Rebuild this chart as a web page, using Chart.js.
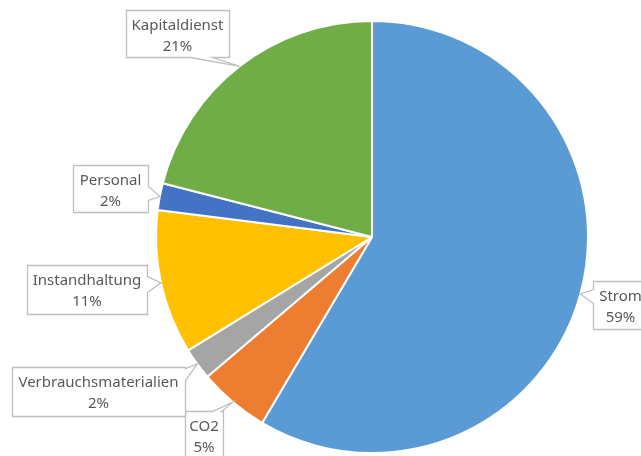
<!DOCTYPE html>
<html>
<head>
<meta charset="utf-8">
<script src="https://cdn.jsdelivr.net/npm/chart.js@4/dist/chart.umd.min.js"></script>
<style>
  html, body { margin: 0; padding: 0; background: #fff; }
  #wrap { width: 641px; height: 456px; }
</style>
</head>
<body>
<div id="wrap"><canvas id="cost_chart" width="641" height="456"></canvas></div>
<script>
const categories = ["Strom", "CO2", "Verbrauchsmaterialien", "Instandhaltung", "Personal", "Kapitaldienst"];
const shares = [58.5, 5.3, 2.4, 10.8, 2.0, 21.0];
const sliceColors = ["#5B9BD5", "#ED7D31", "#A5A5A5", "#FFC000", "#4472C4", "#70AD47"];

// callout boxes: [x1, y1, x2, y2], edge that carries the pointer, pointer base along that edge
const callouts = [
  { box: [593, 281, 648, 329], edge: "left", base: [289, 303] },
  { box: [185, 411, 223, 470], edge: "top", base: [212, 221] },
  { box: [12, 367, 185, 416], edge: "right", base: [368, 380] },
  { box: [27, 265, 147, 314], edge: "right", base: [276, 292] },
  { box: [73, 165, 148, 212], edge: "right", base: [186, 200] },
  { box: [126, 10, 229, 57], edge: "bottom", base: [190, 212] },
];

const total = shares.reduce((a, b) => a + b, 0);

const calloutPlugin = {
  id: "callouts",
  afterDatasetsDraw(chart) {
    const ctx = chart.ctx;
    const arcs = chart.getDatasetMeta(0).data;
    ctx.save();
    arcs.forEach((arc, i) => {
      const c = callouts[i];
      const mid = (arc.startAngle + arc.endAngle) / 2;
      const tx = arc.x + Math.cos(mid) * arc.outerRadius;
      const ty = arc.y + Math.sin(mid) * arc.outerRadius;
      const [x1, y1, x2, y2] = c.box.map((v) => v + 0.5);
      const b0 = c.base[0] + 0.5, b1 = c.base[1] + 0.5;

      ctx.beginPath();
      ctx.moveTo(x1, y1);
      if (c.edge === "top") { ctx.lineTo(b0, y1); ctx.lineTo(tx, ty); ctx.lineTo(b1, y1); }
      ctx.lineTo(x2, y1);
      if (c.edge === "right") { ctx.lineTo(x2, b0); ctx.lineTo(tx, ty); ctx.lineTo(x2, b1); }
      ctx.lineTo(x2, y2);
      if (c.edge === "bottom") { ctx.lineTo(b1, y2); ctx.lineTo(tx, ty); ctx.lineTo(b0, y2); }
      ctx.lineTo(x1, y2);
      if (c.edge === "left") { ctx.lineTo(x1, b1); ctx.lineTo(tx, ty); ctx.lineTo(x1, b0); }
      ctx.closePath();
      ctx.fillStyle = "#ffffff";
      ctx.fill();
      ctx.strokeStyle = "#BFBFBF";
      ctx.lineWidth = 1.3;
      ctx.stroke();

      const cx = (c.box[0] + c.box[2]) / 2;
      ctx.fillStyle = "#595959";
      ctx.font = "15px 'Noto Sans'";
      ctx.textAlign = "center";
      ctx.textBaseline = "middle";
      ctx.fillText(categories[i], cx, c.box[1] + 15.5);
      ctx.fillText(Math.round(shares[i] / total * 100) + "%", cx, c.box[1] + 36.5);
    });
    ctx.restore();
  },
};

new Chart(document.getElementById("cost_chart").getContext("2d"), {
  type: "pie",
  data: {
    labels: categories,
    datasets: [
      {
        data: shares,
        backgroundColor: sliceColors,
        borderColor: "#ffffff",
        borderWidth: 2,
      },
    ],
  },
  options: {
    responsive: false,
    animation: false,
    layout: { padding: { top: 20, bottom: 2, left: 155, right: 52 } },
    plugins: { legend: { display: false }, tooltip: { enabled: false } },
  },
  plugins: [calloutPlugin],
});
</script>
</body>
</html>
